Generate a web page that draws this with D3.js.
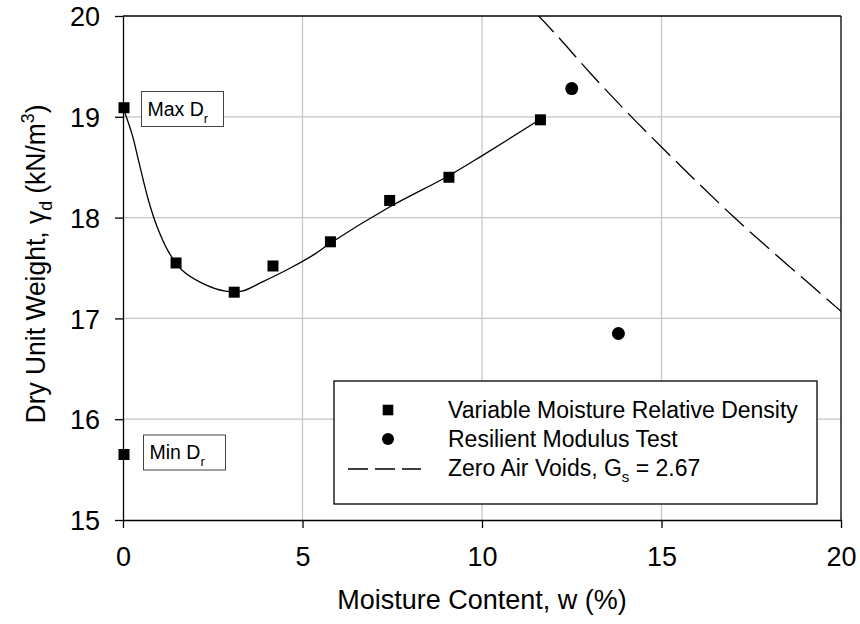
<!DOCTYPE html>
<html>
<head>
<meta charset="utf-8">
<script src="https://cdn.jsdelivr.net/npm/d3@7"></script>
<style>
  html, body { margin: 0; padding: 0; background: #fff; }
  svg { display: block; font-family: "Liberation Sans", Arial, Helvetica, sans-serif; }
</style>
</head>
<body>
<svg id="chart" width="860" height="624"></svg>
<script>
// Variable moisture relative density tests (moisture %, dry unit weight kN/m3)
const vmMoisture = [0.0, 1.45, 3.07, 4.15, 5.75, 7.4, 9.05, 11.6];
const vmWeight   = [19.09, 17.55, 17.26, 17.52, 17.76, 18.17, 18.40, 18.97];

// Minimum relative density point
const minDrMoisture = [0.0];
const minDrWeight   = [15.65];

// Resilient modulus test specimens
const rmMoisture = [12.5, 13.8];
const rmWeight   = [19.28, 16.85];

// Smoothed trend through the relative density tests
const fitMoisture = [0.0, 0.25, 0.43, 0.71, 0.95, 1.27, 1.64, 2.2, 2.85, 3.31, 3.87, 4.61, 5.35, 5.75, 7.4, 9.05, 10.03, 11.6];
const fitWeight   = [19.09, 18.83, 18.57, 18.17, 17.91, 17.66, 17.48, 17.35, 17.27, 17.27, 17.36, 17.49, 17.64, 17.74, 18.10, 18.41, 18.62, 18.97];

// Zero air voids line, Gs = 2.67
const zavMoisture = [11.5, 12, 13, 14, 15, 16, 17, 18, 19, 20];
const zavWeight   = [20.03, 19.84, 19.44, 19.06, 18.70, 18.35, 18.01, 17.69, 17.38, 17.07];

// Axis ticks
const xTicks = [0, 5, 10, 15, 20];
const yTicks = [15, 16, 17, 18, 19, 20];

const legendItems = ["Variable Moisture Relative Density", "Resilient Modulus Test", "Zero Air Voids, G"];

const svg = d3.select("#chart");
const M = { left: 123, right: 841, top: 16, bottom: 520 };

const x = d3.scaleLinear().domain([0, 20]).range([M.left, M.right]);
const y = d3.scaleLinear().domain([15, 20]).range([M.bottom, M.top]);

const TICK_FONT = 27;
const LEGEND_FONT = 23;

// grid
const grid = svg.append("g");
grid.selectAll("line.gx").data(xTicks.filter(d => d > 0 && d < 20)).enter().append("line")
  .attr("x1", d => x(d)).attr("x2", d => x(d))
  .attr("y1", M.top).attr("y2", M.bottom)
  .attr("stroke", "#c6c6c6").attr("stroke-width", 1.3);
grid.selectAll("line.gy").data(yTicks.filter(d => d > 15 && d < 20)).enter().append("line")
  .attr("x1", M.left).attr("x2", M.right)
  .attr("y1", d => y(d)).attr("y2", d => y(d))
  .attr("stroke", "#c6c6c6").attr("stroke-width", 1.3);

// frame (top & right)
svg.append("line").attr("x1", M.left).attr("x2", M.right).attr("y1", M.top).attr("y2", M.top)
  .attr("stroke", "#000").attr("stroke-width", 1.3);
svg.append("line").attr("x1", M.right).attr("x2", M.right).attr("y1", M.top).attr("y2", M.bottom)
  .attr("stroke", "#000").attr("stroke-width", 1.3);

// axes
const xAxis = svg.append("g").attr("transform", `translate(0,${M.bottom})`)
  .call(d3.axisBottom(x).tickValues(xTicks).tickSize(8).tickSizeOuter(0).tickFormat(d3.format("d")));
const yAxis = svg.append("g").attr("transform", `translate(${M.left},0)`)
  .call(d3.axisLeft(y).tickValues(yTicks).tickSize(8).tickPadding(15).tickSizeOuter(0).tickFormat(d3.format("d")));
[xAxis, yAxis].forEach(a => {
  a.select(".domain").attr("stroke", "#000").attr("stroke-width", 1.3);
  a.selectAll(".tick line").attr("stroke", "#000").attr("stroke-width", 1.3);
  a.selectAll(".tick text").attr("font-size", TICK_FONT).attr("fill", "#000")
    .attr("font-family", "Liberation Sans, Arial, sans-serif");
});
xAxis.selectAll(".tick text").attr("y", 46).attr("dy", 0);
yAxis.selectAll(".tick text").attr("dy", "0.36em");

// clip for plot area
svg.append("clipPath").attr("id", "plotClip").append("rect")
  .attr("x", M.left).attr("y", M.top).attr("width", M.right - M.left).attr("height", M.bottom - M.top);

// zero air voids
const zav = zavMoisture.map((w, i) => [w, zavWeight[i]]);
svg.append("path").datum(zav)
  .attr("clip-path", "url(#plotClip)")
  .attr("d", d3.line().x(d => x(d[0])).y(d => y(d[1])).curve(d3.curveMonotoneX))
  .attr("fill", "none").attr("stroke", "#000").attr("stroke-width", 1.3)
  .attr("stroke-dasharray", "26,8");

// fitted curve
const fit = fitMoisture.map((w, i) => [w, fitWeight[i]]);
svg.append("path").datum(fit)
  .attr("d", d3.line().x(d => x(d[0])).y(d => y(d[1])).curve(d3.curveCatmullRom.alpha(0.5)))
  .attr("fill", "none").attr("stroke", "#000").attr("stroke-width", 1.3);

// squares
const SQ = 11;
const squares = vmMoisture.map((w, i) => [w, vmWeight[i]])
  .concat(minDrMoisture.map((w, i) => [w, minDrWeight[i]]));
svg.selectAll("rect.sq").data(squares).enter().append("rect")
  .attr("x", d => x(d[0]) - SQ / 2 + 1).attr("y", d => y(d[1]) - SQ / 2)
  .attr("width", SQ).attr("height", SQ).attr("fill", "#000");

// circles
svg.selectAll("circle.rm").data(rmMoisture.map((w, i) => [w, rmWeight[i]])).enter().append("circle")
  .attr("cx", d => x(d[0])).attr("cy", d => y(d[1])).attr("r", 6.5).attr("fill", "#000");

// annotation boxes
function labelBox(bx, by, main) {
  svg.append("rect").attr("x", bx).attr("y", by).attr("width", 82).attr("height", 35)
    .attr("fill", "#fff").attr("stroke", "#444").attr("stroke-width", 1);
  const t = svg.append("text").attr("x", bx + 6).attr("y", by + 24)
    .attr("font-size", 19.5).attr("fill", "#000");
  t.append("tspan").text(main);
  t.append("tspan").attr("font-size", 13).attr("dy", 7).text("r");
}
labelBox(141.5, 91.5, "Max D");
labelBox(143.5, 435, "Min D");

// legend
const lg = svg.append("g");
lg.append("rect").attr("x", 334).attr("y", 381).attr("width", 483).attr("height", 123)
  .attr("fill", "#fff").attr("stroke", "#000").attr("stroke-width", 1.3);
const rowY = [410, 439, 468];
lg.append("rect").attr("x", 388 - 5.3).attr("y", rowY[0] - 5.3).attr("width", 10.6).attr("height", 10.6).attr("fill", "#000");
lg.append("circle").attr("cx", 388).attr("cy", rowY[1]).attr("r", 6).attr("fill", "#000");
lg.append("line").attr("x1", 348).attr("x2", 421).attr("y1", rowY[2] + 1).attr("y2", rowY[2] + 1)
  .attr("stroke", "#000").attr("stroke-width", 1.3).attr("stroke-dasharray", "20,7");
legendItems.forEach((s, i) => {
  const t = lg.append("text").attr("x", 448).attr("y", rowY[i] + 8).attr("font-size", LEGEND_FONT).attr("fill", "#000");
  t.append("tspan").text(s);
  if (i === 2) {
    t.append("tspan").attr("font-size", 15).attr("dy", 6).text("s");
    t.append("tspan").attr("dy", -6).text(" = 2.67");
  }
});

// axis titles
svg.append("text").attr("x", (M.left + M.right) / 2).attr("y", 609)
  .attr("text-anchor", "middle").attr("font-size", 27).attr("fill", "#000")
  .text("Moisture Content, w (%)");

const yt = svg.append("text").attr("transform", `translate(45,264) rotate(-90) scale(0.98,1)`)
  .attr("text-anchor", "middle").attr("font-size", 27).attr("fill", "#000");
yt.append("tspan").text("Dry Unit Weight, γ");
yt.append("tspan").attr("font-size", 18).attr("dy", 7).text("d");
yt.append("tspan").attr("dy", -7).text(" (kN/m");
yt.append("tspan").attr("font-size", 18).attr("dy", -11).text("3");
yt.append("tspan").attr("dy", 11).text(")");
</script>
</body>
</html>
